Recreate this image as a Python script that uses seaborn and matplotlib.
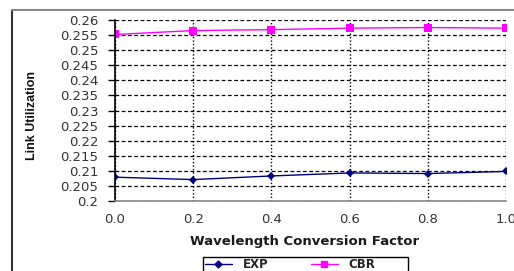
import numpy as np
import pandas as pd
import matplotlib
matplotlib.use("Agg")
import matplotlib.pyplot as plt
import seaborn as sns
from matplotlib.ticker import FuncFormatter

# data
factor = [0.0, 0.2, 0.4, 0.6, 0.8, 1.0]
exp_util = [0.2079, 0.2071, 0.2083, 0.2093, 0.2091, 0.2098]
cbr_util = [0.2552, 0.2565, 0.2568, 0.2573, 0.2575, 0.2573]
yticks = [0.2, 0.205, 0.21, 0.215, 0.22, 0.225, 0.23, 0.235, 0.24, 0.245, 0.25, 0.255, 0.26]

df = pd.DataFrame({
    "factor": factor * 2,
    "util": exp_util + cbr_util,
    "series": ["EXP"] * len(factor) + ["CBR"] * len(factor),
})

sns.set_style("white")
plt.rcParams["font.family"] = ["DejaVu Sans"]

fig = plt.figure(figsize=(5.14, 2.71), dpi=100)
ax = fig.add_axes([115 / 514, 1 - 201 / 271, (506 - 115) / 514, (201 - 20) / 271])

# outer chart frame (left and top edges)
fig.add_artist(plt.Line2D([12 / 514, 12 / 514], [0, 1 - 10 / 271], color="#333333", lw=1.5))
fig.add_artist(plt.Line2D([12 / 514, 1], [1 - 10 / 271, 1 - 10 / 271], color="#888888", lw=1.5))

sns.lineplot(data=df, x="factor", y="util", hue="series", style="series",
             palette={"EXP": "#000080", "CBR": "#FF00FF"},
             markers={"EXP": "D", "CBR": "s"}, dashes=False,
             linewidth=1, markeredgewidth=0, ax=ax, legend=False)
for line in ax.lines:
    line.set_markersize(4.5 if line.get_marker() == "D" else 5.5)

ax.set_xlim(0, 1.0)
ax.set_ylim(0.2, 0.26)
ax.set_xticks(factor)
ax.set_yticks(yticks)
ax.xaxis.set_major_formatter(FuncFormatter(lambda v, p: f"{v:.1f}"))
ax.yaxis.set_major_formatter(FuncFormatter(lambda v, p: f"{v:.3f}".rstrip("0")))
ax.tick_params(axis="both", labelsize=9.5, labelcolor="#333333")
ax.tick_params(axis="y", left=True, width=1, length=5, direction="out", pad=7, color="black")
ax.tick_params(axis="x", bottom=False, pad=5)

ax.yaxis.grid(True, color="black", linestyle=(0, (3, 2)), linewidth=0.9)
ax.xaxis.grid(True, color="black", linestyle=(0, (1, 1.5)), linewidth=1)
ax.set_axisbelow(True)

for side in ["top", "right"]:
    ax.spines[side].set_visible(False)
ax.spines["left"].set_color("black")
ax.spines["left"].set_linewidth(1.2)
ax.spines["bottom"].set_color("#888888")
ax.spines["bottom"].set_linewidth(1.2)

ax.set_xlabel("Wavelength Conversion Factor", fontsize=9.5, fontweight="bold", color="#1a1a1a")
ax.xaxis.set_label_coords((305 - 115) / (506 - 115), (201 - 241) / 181, transform=ax.transAxes)
ax.xaxis.label.set_va("center")
ax.set_ylabel("Link Utilization", fontsize=9, fontweight="bold",
              family=["Liberation Sans"], color="#111111")
ax.yaxis.set_label_coords((32 - 115) / (506 - 115), 1 - (116 - 20) / 181, transform=ax.transAxes)
ax.yaxis.label.set_va("center")

# legend box (drawn separately so its width matches the reference)
fig.add_artist(plt.Rectangle((203 / 514, -0.05), (408 - 203) / 514, 0.05 + 1 - 257 / 271,
                             transform=fig.transFigure, fill=False, edgecolor="black", lw=1))
handles = [
    plt.Line2D([], [], color="#000080", marker="D", markersize=3.5, lw=1),
    plt.Line2D([], [], color="#FF00FF", marker="s", markersize=4, lw=1),
]
leg = fig.legend(handles, ["EXP", "CBR"], loc="upper left", ncol=2,
                 bbox_to_anchor=(203 / 514, 1 - 256 / 271), frameon=False,
                 prop={"weight": "bold", "size": 8.5},
                 handlelength=2.3, handletextpad=0.9, columnspacing=3.6,
                 borderpad=0.15, borderaxespad=0)

fig.savefig("out.png", dpi=100)
